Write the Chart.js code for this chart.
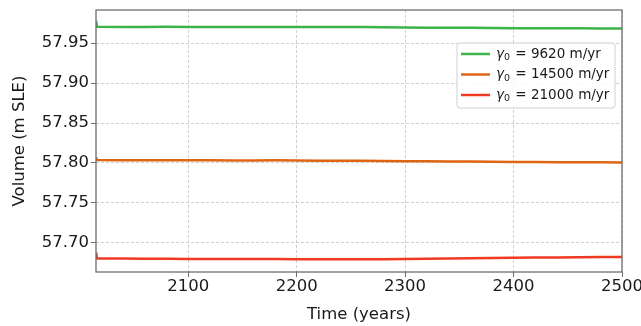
<!DOCTYPE html>
<html>
<head>
<meta charset="utf-8">
<script src="https://cdn.jsdelivr.net/npm/chart.js@4"></script>
<style>
  html, body { margin:0; padding:0; background:#fff; }
  canvas { display:block; }
</style>
</head>
<body>
<canvas id="grafico" width="641" height="326"></canvas>
<script>
// ── datos ──
const years = [2015, 2016, 2040, 2060, 2080, 2100, 2120, 2140, 2160, 2180, 2200, 2220, 2240,
               2260, 2280, 2300, 2320, 2340, 2360, 2380, 2400, 2420, 2440, 2460, 2480, 2500];
const volG9620 = [57.978, 57.9705, 57.9703, 57.9702, 57.9704, 57.9703, 57.9702, 57.9703, 57.9702,
                  57.9702, 57.9702, 57.9701, 57.9702, 57.9701, 57.9699, 57.9696, 57.9694, 57.9693,
                  57.9692, 57.9690, 57.9688, 57.9687, 57.9686, 57.9686, 57.9684, 57.9683];
const volG14500 = [57.807, 57.8036, 57.8035, 57.8034, 57.8034, 57.8033, 57.8033, 57.8032, 57.8032,
                   57.8033, 57.8031, 57.8029, 57.8027, 57.8027, 57.8025, 57.8022, 57.8020, 57.8019,
                   57.8018, 57.8015, 57.8013, 57.8012, 57.8010, 57.8010, 57.8008, 57.8007];
const volG21000 = [57.688, 57.6805, 57.6803, 57.6802, 57.6800, 57.6799, 57.6799, 57.6798, 57.6797,
                   57.6797, 57.6796, 57.6795, 57.6795, 57.6795, 57.6796, 57.6798, 57.6801, 57.6803,
                   57.6806, 57.6809, 57.6812, 57.6815, 57.6818, 57.6820, 57.6822, 57.6823];
const gammas = ["9620", "14500", "21000"];
const xTicks = [2100, 2200, 2300, 2400, 2500];
const yTicks = [57.70, 57.75, 57.80, 57.85, 57.90, 57.95];

const C = { green:'#3cb44c', orange:'#df6513', red:'#f03a24', frame:'#6e6e6e', grid:'#c4c4c4', txt:'#1a1a1a' };
const FONT = "'DejaVu Sans', sans-serif";

const pts = arr => arr.map((v, i) => ({ x: years[i], y: v }));

// marco completo + leyenda estilo matplotlib
const marco = {
  id: 'marco',
  afterDatasetsDraw(chart) {
    const { ctx, chartArea: a } = chart;
    ctx.save();
    ctx.strokeStyle = C.frame; ctx.lineWidth = 1.3;
    ctx.strokeRect(a.left, a.top, a.right - a.left, a.bottom - a.top);
    ctx.restore();
  },
  afterDraw(chart) {
    const { ctx } = chart;
    const bx = 457, by = 43, bw = 158, bh = 65, r = 3;
    ctx.save();
    ctx.beginPath();
    ctx.moveTo(bx + r, by); ctx.arcTo(bx + bw, by, bx + bw, by + bh, r);
    ctx.arcTo(bx + bw, by + bh, bx, by + bh, r); ctx.arcTo(bx, by + bh, bx, by, r);
    ctx.arcTo(bx, by, bx + bw, by, r); ctx.closePath();
    ctx.fillStyle = 'rgba(255,255,255,0.85)'; ctx.fill();
    ctx.strokeStyle = '#d0d0d0'; ctx.lineWidth = 1; ctx.stroke();
    chart.data.datasets.forEach((ds, i) => {
      const y = 54 + i * 20.5;
      ctx.strokeStyle = ds.borderColor; ctx.lineWidth = 2.5;
      ctx.beginPath(); ctx.moveTo(461, y); ctx.lineTo(490, y); ctx.stroke();
      ctx.fillStyle = C.txt; ctx.textBaseline = 'middle';
      let x = 496;
      ctx.font = `italic 13.5px ${FONT}`; ctx.fillText('γ', x, y); x += ctx.measureText('γ').width;
      ctx.font = `9.5px ${FONT}`; ctx.fillText('0', x, y + 4); x += ctx.measureText('0').width + 1;
      ctx.font = `13.5px ${FONT}`; ctx.fillText(` = ${gammas[i]} m/yr`, x, y);
    });
    ctx.restore();
  }
};

new Chart(document.getElementById('grafico'), {
  type: 'line',
  data: { datasets: [
    { label: 'γ0 = 9620 m/yr',  data: pts(volG9620),  borderColor: C.green,  borderWidth: 2.5, pointRadius: 0, tension: 0 },
    { label: 'γ0 = 14500 m/yr', data: pts(volG14500), borderColor: C.orange, borderWidth: 2.5, pointRadius: 0, tension: 0 },
    { label: 'γ0 = 21000 m/yr', data: pts(volG21000), borderColor: C.red,    borderWidth: 2.5, pointRadius: 0, tension: 0 }
  ]},
  options: {
    responsive: false, animation: false, devicePixelRatio: 1,
    layout: { padding: { left: 0, right: 19, top: 10, bottom: 0 } },
    plugins: { legend: { display: false }, tooltip: { enabled: false } },
    scales: {
      x: { type: 'linear', min: 2015, max: 2500,
        afterBuildTicks: s => { s.ticks = xTicks.map(v => ({ value: v })); },
        afterFit: s => { s.height = 54; s.paddingLeft = 0; s.paddingRight = 0; },
        grid: { color: C.grid, lineWidth: 0.8, tickLength: 5, tickColor: C.frame, tickWidth: 1, tickBorderDash: [] },
        border: { display: false, dash: [3, 2] },
        ticks: { color: C.txt, padding: 0, maxRotation: 0, font: { family: FONT, size: 16.5 }, callback: v => String(v) },
        title: { display: true, text: 'Time (years)', color: C.txt, font: { family: FONT, size: 16.5 }, padding: { top: 0, bottom: 1 } }
      },
      y: { min: 57.6635, max: 57.9915,
        afterBuildTicks: s => { s.ticks = yTicks.map(v => ({ value: v })); },
        afterFit: s => { s.width = 96; s.paddingTop = 0; s.paddingBottom = 0; },
        grid: { color: C.grid, lineWidth: 0.8, tickLength: 5, tickColor: C.frame, tickWidth: 1, tickBorderDash: [] },
        border: { display: false, dash: [3, 2] },
        ticks: { color: C.txt, padding: 2, font: { family: FONT, size: 16.5 }, callback: v => Number(v).toFixed(2) },
        title: { display: true, text: 'Volume (m SLE)', color: C.txt, font: { family: FONT, size: 16.5 }, padding: { top: 10, bottom: 0 } }
      }
    }
  },
  plugins: [marco]
});
</script>
</body>
</html>
